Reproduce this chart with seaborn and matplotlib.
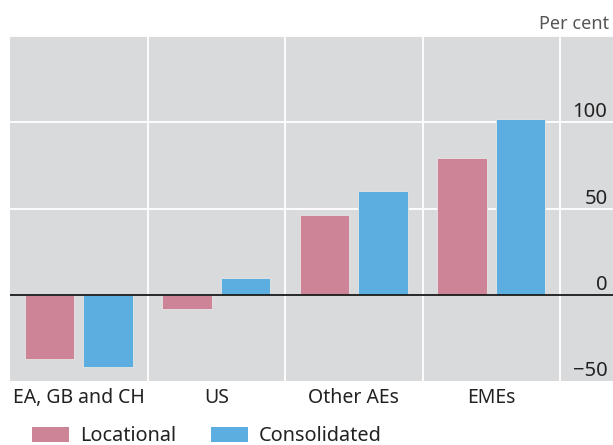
import pandas as pd
import numpy as np
import seaborn as sns
import matplotlib.pyplot as plt
from matplotlib.patches import Patch

# Data
regions = ['EA, GB and CH', 'US', 'Other AEs', 'EMEs']
locational = [-37, -8.5, 46, 79.5]
consolidated = [-42, 10, 60, 102]
series_names = ['Locational', 'Consolidated']
colors = ['#cd8497', '#5daee0']

df = pd.DataFrame({
    'Region': regions * 2,
    'Value': locational + consolidated,
    'Series': [series_names[0]] * len(regions) + [series_names[1]] * len(regions),
})

sns.set_style('white')
plt.rcParams['font.family'] = ['Noto Sans', 'DejaVu Sans']
plt.rcParams['text.color'] = '#222222'

fig = plt.figure(figsize=(6.13, 4.45), dpi=100)
ax = fig.add_axes([10 / 613, 1 - 381 / 445, 1 - 10 / 613, (381 - 36) / 445])
ax.set_facecolor('#d9dadc')

sns.barplot(data=df, x='Region', y='Value', hue='Series', palette=colors,
            width=0.85, gap=0.15, saturation=1, edgecolor='#e6e6e6',
            linewidth=0.6, legend=False, ax=ax, zorder=3)

ax.set_xlim(-0.5, 3.885)
ax.set_ylim(-50, 150)
for s in ax.spines.values():
    s.set_visible(False)

# gridlines
for v in [50, 100, 150]:
    ax.axhline(v, color='white', lw=1.3, zorder=1)
for xb in [0.5, 1.5, 2.5, 3.5]:
    ax.axvline(xb, color='white', lw=1.3, zorder=1)
ax.axhline(0, color='#1a1a1a', lw=1.3, zorder=4)

# x axis
ax.set_xticks(range(len(regions)))
ax.set_xticklabels(regions, fontsize=14, color='#222222')
ax.set_xticks([-0.5, 0.5, 1.5, 2.5, 3.5], minor=True)
ax.tick_params(axis='x', which='major', length=0, pad=5)
ax.tick_params(axis='x', which='minor', direction='in', length=9, width=1.2,
               color='#555555')
ax.set_xlabel('')

# y axis, labels inside on the right, above their lines
ax.yaxis.tick_right()
ax.set_yticks([-50, 0, 50, 100])
ax.set_yticklabels(['\u221250', '0', '50', '100'], fontsize=14.5, color='#222222')
ax.tick_params(axis='y', length=0, pad=-4)
for lbl in ax.get_yticklabels():
    lbl.set_horizontalalignment('right')
    lbl.set_verticalalignment('bottom')
ax.set_ylabel('')

fig.text(609 / 613, 1 - 24 / 445, 'Per cent', ha='right', va='center',
         fontsize=13, color='#555555')

handles = [Patch(facecolor=c, edgecolor='none') for c in colors]
fig.legend(handles, series_names, loc='center left',
           bbox_to_anchor=(28 / 613, 1 - 436 / 445), ncol=2, frameon=False,
           fontsize=14.3, handlelength=1.86, handleheight=0.8,
           columnspacing=1.75, handletextpad=0.55, borderaxespad=0,
           borderpad=0.2)

fig.savefig('out.png', dpi=100)
